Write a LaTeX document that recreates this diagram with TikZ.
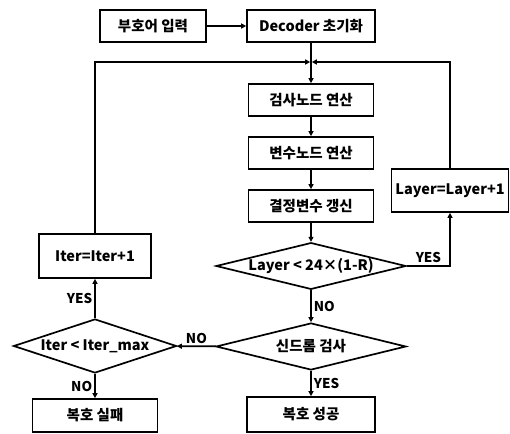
\documentclass[tikz,border=0pt]{standalone}
\usepackage{fontspec}
\newfontfamily\kor{Noto Sans CJK KR}
\usepackage{tikz}
\usetikzlibrary{shapes.geometric}
\usetikzlibrary{positioning}
\usetikzlibrary{arrows.meta}

\tikzset{
    box/.style={draw, line width=1.7pt, minimum height=32pt, inner sep=0pt},
    decide/.style={draw, diamond, line width=1.7pt, inner sep=0pt, shape aspect=4},
    arr/.style={-{Triangle[length=5pt,width=5pt]}, line width=1.7pt},
    lbl/.style={font=\kor\bfseries\fontsize{13.5}{15}\selectfont, inner sep=2pt}
}

\begin{document}
\begin{tikzpicture}[x=1pt, y=-1pt, font=\kor\bfseries\fontsize{14.5}{16}\selectfont]
    \useasboundingbox (0,0) rectangle (510,433);
    % Boxes
    \node [box, minimum width=106pt] (input) at (153,26) {부호어 입력};
    \node [box, minimum width=128pt] (init) at (311,26) {Decoder 초기화};
    \node [box, minimum width=125pt] (check) at (311,100) {검사노드 연산};
    \node [box, minimum width=125pt] (var) at (311,153) {변수노드 연산};
    \node [box, minimum width=125pt] (dec) at (311,206) {결정변수 갱신};
    \node [box, minimum width=117pt, minimum height=43pt] (layerinc) at (450,190.5) {Layer=Layer+1};
    \node [box, minimum width=112pt, minimum height=44pt] (iterinc) at (95,256) {Iter=Iter+1};
    \node [box, minimum width=125pt, minimum height=33pt] (fail) at (95,415.5) {복호 실패};
    \node [box, minimum width=128pt, minimum height=35pt] (ok) at (311,414.5) {복호 성공};
    % Diamonds
    \node [decide, minimum width=190pt, minimum height=46pt] (layer) at (311,266) {Layer < 24×(1-R)};
    \node [decide, minimum width=190pt, minimum height=47pt] (syn) at (311,346.5) {신드롬 검사};
    \node [decide, minimum width=163pt, minimum height=54pt, shape aspect=3] (iter) at (95,346) {Iter < Iter\_max};
    \coordinate (j) at (311,62);
    % Arrows
    \draw [arr] (input) -- (init);
    \draw [arr] (init) -- (check);
    \draw [arr] (check) -- (var);
    \draw [arr] (var) -- (dec);
    \draw [arr] (dec) -- (layer);
    \draw [arr, shorten >=0.8pt] (iterinc.north) |- (j);
    \draw [arr, shorten >=0.8pt] (layerinc.north) |- (j);
    \draw [arr] (layer.east) -| (layerinc.south)
        node [lbl, pos=0.25, above] {YES};
    \draw [arr] (layer) -- (syn) node [lbl, midway, right] {NO};
    \draw [arr] (syn) -- (iter) node [lbl, midway, above] {NO};
    \draw [arr] (syn) -- (ok) node [lbl, midway, right] {YES};
    \draw [arr] (iter) -- (iterinc) node [lbl, midway, left] {YES};
    \draw [arr] (iter) -- (fail) node [lbl, midway, left] {NO};
\end{tikzpicture}
\end{document}
